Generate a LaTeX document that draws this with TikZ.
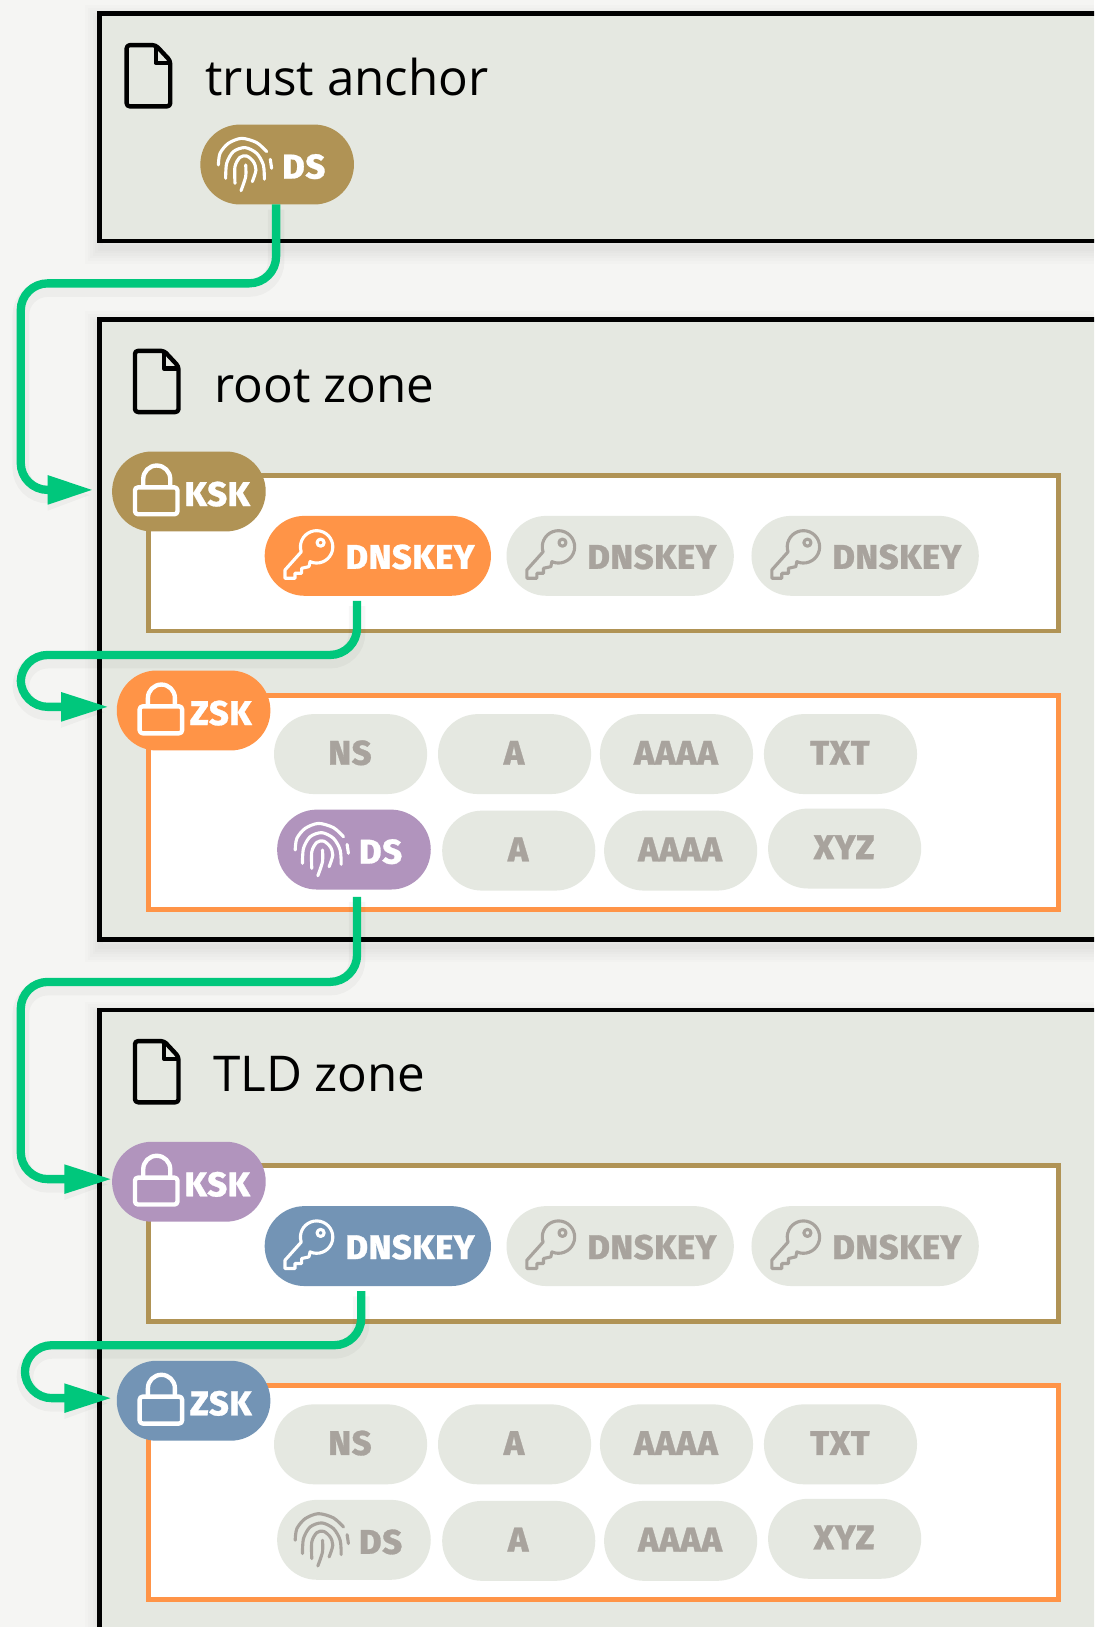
\documentclass[tikz,border=0pt]{standalone}
\usepackage{fontspec}
\setmainfont{Open Sans}
\newfontfamily\pilf[UprightFont=* ExtraBold,LetterSpace=2,FakeBold=0.8]{Fira Sans}
\usetikzlibrary{arrows.meta,calc}
\definecolor{pagebg}{HTML}{F5F5F3}
\definecolor{zonebg}{HTML}{E5E8E1}
\definecolor{tan}{HTML}{B09355}
\definecolor{orng}{HTML}{FF9447}
\definecolor{purp}{HTML}{B194BD}
\definecolor{blu}{HTML}{7394B5}
\definecolor{grn}{HTML}{00C77C}
\definecolor{graytx}{HTML}{A8A39D}
\tikzset{
  x=1pt,y=-1pt,
  zone/.style={draw=black,line width=4.4pt,fill=zonebg,inner sep=0pt,outer sep=0pt,anchor=north west},
  sigbox/.style={fill=white,line width=4.4pt,inner sep=0pt,outer sep=0pt,anchor=north west},
  pill/.style={rounded corners=38.4pt,minimum height=77pt,inner sep=0pt,outer sep=0pt,draw=none,anchor=west,
     font=\pilf\fontsize{33}{33}\selectfont,text height=20.5pt,text depth=0pt},
  gpill/.style={pill,fill=zonebg,text=graytx,minimum width=147.5pt,execute at begin node={\hspace*{-1pt}}},
  ttl/.style={font=\fontsize{47.5}{48}\selectfont,anchor=base west,inner sep=0pt,outer sep=0pt,text=black},
  plbl/.style={font=\pilf\fontsize{33}{33}\selectfont,anchor=base west,inner sep=0pt,outer sep=0pt},
  chain/.style={draw=grn,line width=8pt,rounded corners=26pt,
     preaction={draw,black,opacity=.03,line width=16pt,transform canvas={yshift=-5pt}}},
  tipa/.style={-{Triangle[length=#1,width=26pt]}},
  docic/.style={draw=black,line width=4.2pt,line join=round},
  softA/.style={draw=black,opacity=.012,fill=none},
}
\newcommand{\shadowbox}[4]{% x1 y1 x2 y2
  \foreach \w in {30,25,20,15,10,5}{\draw[softA,line width=\w pt] (#1+1,#2+7) rectangle (#3,#4+7);}}
\newcommand{\docat}[2]{\begin{scope}[shift={(#1,#2)}]
  \draw[docic,rounded corners=3pt] (0,0) -- (28,0) -- (42,15) -- (42,59) -- (0,59) -- cycle;
  \draw[docic] (28,0) -- (28,17) -- (42,17);
\end{scope}}
\newcommand{\lockon}[2]{\begin{scope}[shift={(#1.west)},draw=#2,line width=4.2pt,line join=round]
  \draw[rounded corners=3pt] (22,-4) rectangle (63,22);
  \draw (30,-4) -- (30,-12) arc[start angle=180,end angle=360,radius=13] -- (56,-4);
\end{scope}}
\newcommand{\keyon}[2]{\begin{scope}[shift={(#1.west)},draw=#2,line width=3pt,line join=round]
  \draw (43.7,5.6) arc[start angle=114,end angle=-198,radius=15.6]
     -- (19.6,13.6) -- (19.6,21.6) -- (29.2,21.6) -- (29.2,16.8) -- (35.6,16.8) -- (35.6,12) -- (42.7,10.4) -- cycle;
  \draw (53.9,-12.7) circle[radius=3.4];
\end{scope}}
\newcommand{\fpon}[2]{\begin{scope}[shift={(#1.west)},draw=#2,line width=3pt,line cap=round]
  \draw plot[smooth] coordinates {(17.4,0.4) (19,-10.8) (27,-20.4) (39.8,-25.2) (54.3,-21.1) (63.9,-12.4)};
  \draw plot[smooth] coordinates {(24.4,13.3) (25.4,-1.2) (31.8,-12.4) (43.1,-16.3) (54.3,-10.8) (60.7,.4) (61.7,14.2)};
  \draw plot[smooth] coordinates {(33.4,18.1) (33.4,2) (38.2,-6.9) (44.7,-8.2) (51.1,-2.8) (53.6,5.3) (50.1,16.5)};
  \draw plot[smooth] coordinates {(39.2,25.2) (43.7,11.7) (43.7,.4)};
  \draw (67.4,-5) -- (68.7,3.6);
\end{scope}}
\begin{document}
\begin{tikzpicture}
\useasboundingbox (0,0) rectangle (1054,1567.5);
\clip (0,0) rectangle (1054,1567.5);
\fill[pagebg] (0,0) rectangle (1054,1567.5);
% zones
\shadowbox{96}{13}{1100}{232}
\shadowbox{96}{308}{1100}{905}
\shadowbox{96}{973}{1100}{1650}
\node[zone,minimum width=1004pt,minimum height=219pt] (ztrust) at (96,13) {};
\node[zone,minimum width=1004pt,minimum height=597pt] (zroot) at (96,308) {};
\node[zone,minimum width=1004pt,minimum height=677pt] (ztld) at (96,973) {};
\docat{122}{43.5}
\docat{130}{338}
\docat{130}{1003}
\node[ttl] (t1) at (198,92) {trust anchor};
\node[ttl] (t2) at (206.5,388) {root zone};
\node[ttl] (t3) at (205.5,1052) {TLD zone};
% signature boxes
\node[sigbox,draw=tan,minimum width=877pt,minimum height=150pt] (rk) at (143,458) {};
\node[sigbox,draw=orng,minimum width=877pt,minimum height=206pt] (rz) at (143,670) {};
\node[sigbox,draw=tan,minimum width=877pt,minimum height=150pt] (tk) at (143,1123) {};
\node[sigbox,draw=orng,minimum width=877pt,minimum height=206pt] (tz) at (143,1335) {};
% trust anchor
\node[pill,fill=tan,minimum width=148pt] (ds0) at (193,158.5) {};
\fpon{ds0}{white}
\node[plbl,text=white] (ds0t) at ($(ds0.west)+(79,13.5)$) {DS};
% root zone
\node[pill,fill=tan,minimum width=148pt] (rksk) at (108,473.5) {};
\lockon{rksk}{white}
\node[plbl,text=white] (rkskt) at ($(rksk.west)+(70,14)$) {KSK};
\node[pill,fill=orng,minimum width=218pt] (rd1) at (255,535.5) {};
\keyon{rd1}{white}
\node[plbl,text=white] (rd1t) at ($(rd1.west)+(78,12.5)$) {DNSKEY};
\node[pill,fill=zonebg,minimum width=219pt] (rd2) at (488,535.5) {};
\keyon{rd2}{graytx}
\node[plbl,text=graytx] (rd2t) at ($(rd2.west)+(78,12.5)$) {DNSKEY};
\node[pill,fill=zonebg,minimum width=219pt] (rd3) at (724,535.5) {};
\keyon{rd3}{graytx}
\node[plbl,text=graytx] (rd3t) at ($(rd3.west)+(78,12.5)$) {DNSKEY};
\node[pill,fill=orng,minimum width=148pt] (rzsk) at (112.5,684.5) {};
\lockon{rzsk}{white}
\node[plbl,text=white] (rzskt) at ($(rzsk.west)+(70.5,14)$) {ZSK};
\node[gpill] (rns) at (264,726.5) {NS};
\node[gpill] (ra1) at (422,726.5) {A};
\node[gpill] (raa1) at (578,726.5) {AAAA};
\node[gpill] (rtxt) at (736,726.5) {TXT};
\node[pill,fill=purp,minimum width=148pt] (rds) at (267,818.5) {};
\fpon{rds}{white}
\node[plbl,text=white] (rdst) at ($(rds.west)+(79,13.5)$) {DS};
\node[gpill] (ra2) at (426,819.5) {A};
\node[gpill] (raa2) at (582,819.5) {AAAA};
\node[gpill] (rxyz) at (740,817.5) {XYZ};
% TLD zone
\node[pill,fill=purp,minimum width=148pt] (tksk) at (108,1138.5) {};
\lockon{tksk}{white}
\node[plbl,text=white] (tkskt) at ($(tksk.west)+(70,14)$) {KSK};
\node[pill,fill=blu,minimum width=218pt] (td1) at (255,1200.5) {};
\keyon{td1}{white}
\node[plbl,text=white] (td1t) at ($(td1.west)+(78,12.5)$) {DNSKEY};
\node[pill,fill=zonebg,minimum width=219pt] (td2) at (488,1200.5) {};
\keyon{td2}{graytx}
\node[plbl,text=graytx] (td2t) at ($(td2.west)+(78,12.5)$) {DNSKEY};
\node[pill,fill=zonebg,minimum width=219pt] (td3) at (724,1200.5) {};
\keyon{td3}{graytx}
\node[plbl,text=graytx] (td3t) at ($(td3.west)+(78,12.5)$) {DNSKEY};
\node[pill,fill=blu,minimum width=148pt] (tzsk) at (112.5,1349.5) {};
\lockon{tzsk}{white}
\node[plbl,text=white] (tzskt) at ($(tzsk.west)+(70.5,14)$) {ZSK};
\node[gpill] (tns) at (264,1391.5) {NS};
\node[gpill] (ta1) at (422,1391.5) {A};
\node[gpill] (taa1) at (578,1391.5) {AAAA};
\node[gpill] (ttxt) at (736,1391.5) {TXT};
\node[pill,fill=zonebg,minimum width=148pt] (tds) at (267,1483.5) {};
\fpon{tds}{graytx}
\node[plbl,text=graytx] (tdst) at ($(tds.west)+(79,13.5)$) {DS};
\node[gpill] (ta2) at (426,1484.5) {A};
\node[gpill] (taa2) at (582,1484.5) {AAAA};
\node[gpill] (txyz) at (740,1482.5) {XYZ};
% connectors
\draw[chain,tipa=44pt] ([xshift=-1pt]ds0.south) -- ++(0,76) -- (20,273) -- (20,472) -- ([xshift=-18pt,yshift=1.5pt]rksk.west);
\draw[chain,tipa=46pt] ([xshift=-20pt,yshift=-5pt]rd1.south) -- (344,631) -- (20,631) -- (20,681) -- ([xshift=-7.5pt,yshift=3.5pt]rzsk.west);
\draw[chain,tipa=46pt] ([xshift=3pt,yshift=-7pt]rds.south) -- (344,946) -- (20,946) -- (20,1136) -- ([xshift=0pt,yshift=2.5pt]tksk.west);
\draw[chain,tipa=46pt] ([xshift=-16pt,yshift=-5pt]td1.south) -- (348,1296) -- (24,1296) -- (24,1347) -- ([xshift=-4.5pt,yshift=2.5pt]tzsk.west);
\end{tikzpicture}
\end{document}
